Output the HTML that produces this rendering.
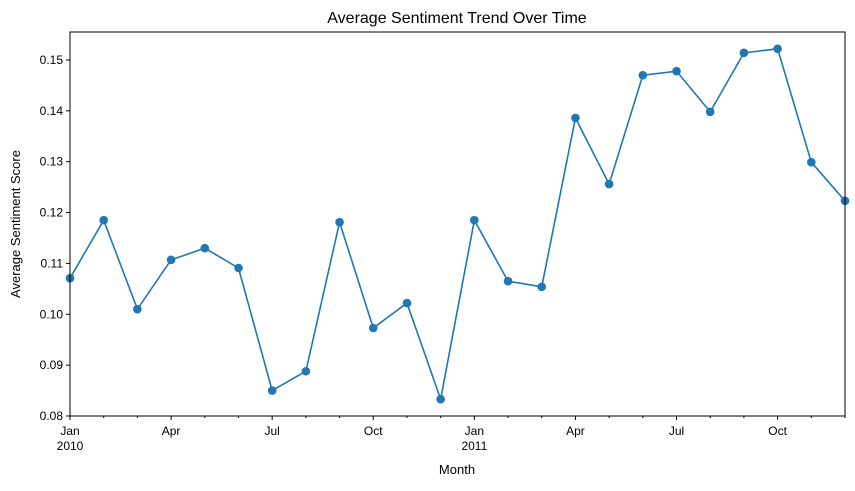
<!DOCTYPE html>
<html><head><meta charset="utf-8"><style>
body{margin:0;background:#fff;}
svg text{font-family:"Liberation Sans","DejaVu Sans",sans-serif;fill:#000;}
</style></head><body>
<svg id="chart" width="855" height="486" xmlns="http://www.w3.org/2000/svg">
<rect width="855" height="486" fill="#fff"/>
<text x="457" y="23" font-size="16" text-anchor="middle">Average Sentiment Trend Over Time</text>
<text x="457" y="474" font-size="13" text-anchor="middle">Month</text>
<text transform="translate(20,224) rotate(-90)" font-size="13" text-anchor="middle">Average Sentiment Score</text>
<g id="axes"></g>
<g id="series"></g>
<rect x="70" y="32" width="775" height="384" fill="none" stroke="#000" stroke-width="1"/>
</svg>
<script>
const months = ["2010-01","2010-02","2010-03","2010-04","2010-05","2010-06","2010-07","2010-08","2010-09","2010-10","2010-11","2010-12","2011-01","2011-02","2011-03","2011-04","2011-05","2011-06","2011-07","2011-08","2011-09","2011-10","2011-11","2011-12"];
const scores = [0.1071,0.1185,0.1010,0.1107,0.1130,0.1091,0.0850,0.0888,0.1181,0.0973,0.1022,0.0833,0.1185,0.1065,0.1054,0.1386,0.1256,0.1470,0.1478,0.1398,0.1514,0.1522,0.1299,0.1223];
const yTicks = [0.08,0.09,0.10,0.11,0.12,0.13,0.14,0.15];
const xTickLabels = ["Jan","","","Apr","","","Jul","","","Oct","","","Jan","","","Apr","","","Jul","","","Oct","",""];
const yearLabels = ["2010","","","","","","","","","","","","2011","","","","","","","","","","",""];

const NS="http://www.w3.org/2000/svg";
const X0=70,X1=845,Y0=416,Y1=32,YMIN=0.08,YMAX=0.1555;
function xs(i){return X0+(X1-X0)*i/(months.length-1);}
function ys(v){return Y0-(v-YMIN)/(YMAX-YMIN)*(Y0-Y1);}
function mk(t,a,p){const e=document.createElementNS(NS,t);for(const k in a)e.setAttribute(k,a[k]);p.appendChild(e);return e;}
const axes=document.getElementById('axes'), ser=document.getElementById('series');
yTicks.forEach(v=>{
  const y=ys(v);
  const t=mk('line',{x1:X0-4,x2:X0,y1:y,y2:y,stroke:'#000'},axes);
  
  
  const l=mk('text',{x:X0-7,y:y+4,'font-size':'12','text-anchor':'end'},axes);
  l.textContent=v.toFixed(2);
  
  
});
months.forEach((m,i)=>{
  const x=xs(i), major=xTickLabels[i]!=="";
  const t=mk('line',{x1:x,x2:x,y1:Y0,y2:Y0+(major?4:2),stroke:'#000'},axes);
  
  
  if(major){
    const l=mk('text',{x:x,y:Y0+19,'font-size':'12','text-anchor':'middle'},axes);
    l.textContent=xTickLabels[i];
    
    
  }
  if(yearLabels[i]){
    const l=mk('text',{x:x,y:Y0+34,'font-size':'12','text-anchor':'middle'},axes);
    l.textContent=yearLabels[i];
    
    
  }
});
const line=mk('polyline',{points:scores.map((v,i)=>xs(i)+','+ys(v)).join(' '),fill:'none',stroke:'#1f77b4','stroke-width':'1.6'},ser);


scores.forEach((v,i)=>{
  const c=mk('circle',{cx:xs(i),cy:ys(v),r:4.3,fill:'#1f77b4'},ser);
  
  
});
</script>
</body></html>
